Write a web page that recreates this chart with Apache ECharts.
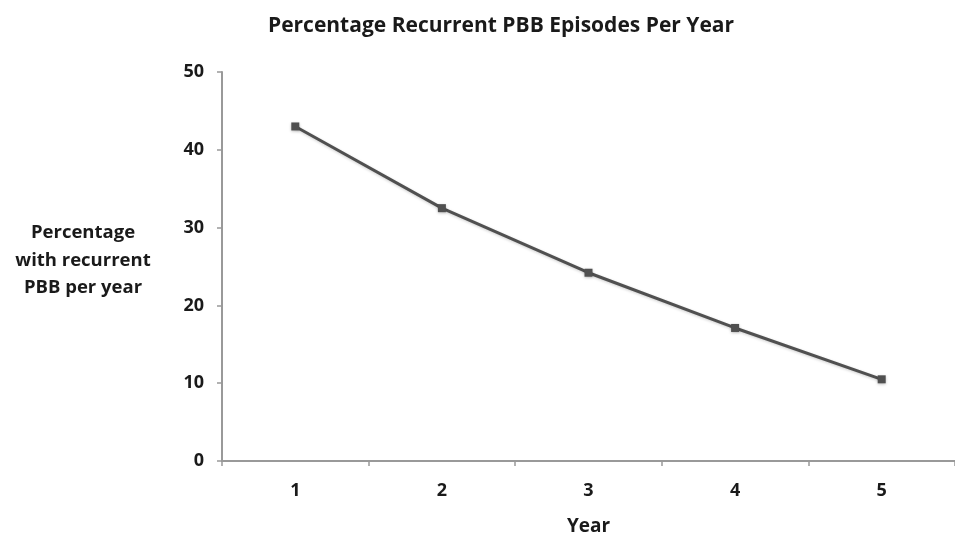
<!DOCTYPE html>
<html>
<head>
<meta charset="utf-8">
<script src="https://cdn.jsdelivr.net/npm/echarts@6/dist/echarts.min.js"></script>
<style>html,body{margin:0;padding:0;background:#fff;}#c{width:955px;height:541px;}</style>
</head>
<body>
<div id="c"></div>
<script>
var categories = ['1', '2', '3', '4', '5'];
var values = [43.0, 32.5, 24.2, 17.1, 10.5];
var yTicks = [0, 10, 20, 30, 40, 50];

var chart = echarts.init(document.getElementById('c'));
var font = '"Open Sans", "DejaVu Sans", sans-serif';
chart.setOption({
  animation: false,
  backgroundColor: '#fff',
  title: {
    text: 'Percentage Recurrent PBB Episodes Per Year',
    left: 496, top: 11, textAlign: 'center',
    textStyle: { fontFamily: font, fontWeight: 'bold', fontSize: 21, color: '#1a1a1a' }
  },
  graphic: [{
    type: 'text', x: 83, y: 219,
    style: {
      text: 'Percentage\nwith recurrent\nPBB per year',
      align: 'center', verticalAlign: 'top',
      font: 'bold 18.5px "Open Sans", sans-serif', fill: '#1a1a1a', lineHeight: 27.5
    }
  }],
  grid: { left: 222, top: 72, width: 741, height: 390 },
  xAxis: {
    type: 'category', data: categories, boundaryGap: true,
    name: 'Year', nameLocation: 'middle', nameGap: 56,
    nameTextStyle: { fontFamily: font, fontWeight: 'bold', fontSize: 19, color: '#1a1a1a' },
    axisLine: { lineStyle: { color: '#999', width: 2 } },
    axisTick: { show: true, length: 5, alignWithLabel: false, lineStyle: { color: '#999', width: 1.5 } },
    axisLabel: { margin: 21, fontFamily: font, fontWeight: 'bold', fontSize: 18, color: '#1a1a1a' },
    splitLine: { show: false }
  },
  yAxis: {
    type: 'value', min: yTicks[0], max: yTicks[yTicks.length - 1], interval: 10,
    axisLine: { show: true, lineStyle: { color: '#999', width: 2 } },
    axisTick: { show: true, length: 5, lineStyle: { color: '#999', width: 1.5 } },
    axisLabel: { margin: 18, fontFamily: font, fontWeight: 'bold', fontSize: 18, color: '#1a1a1a' },
    splitLine: { show: false }
  },
  series: [{
    type: 'line', data: values,
    symbol: 'rect', symbolSize: 8,
    itemStyle: { color: '#505050', shadowColor: 'rgba(0,0,0,0.25)', shadowBlur: 3, shadowOffsetY: 1 },
    lineStyle: { color: '#505050', width: 3, shadowColor: 'rgba(0,0,0,0.2)', shadowBlur: 3, shadowOffsetY: 1 }
  }]
});
</script>
</body>
</html>
